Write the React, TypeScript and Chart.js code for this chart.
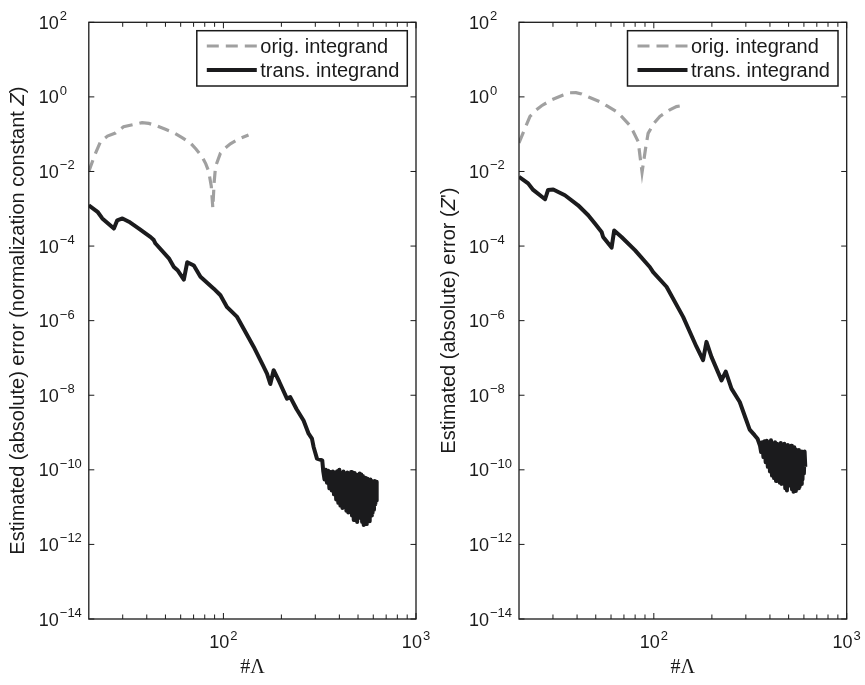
import React, { useEffect, useRef } from 'react';
import { Chart, registerables } from 'chart.js';

Chart.register(...registerables);

// ---------- axis ranges & ticks ----------
const X_MIN = 20;
const X_MAX = 1000;
const Y_MIN = 1e-14;
const Y_MAX = 1e2;
const X_MAJOR_TICKS = [100, 1000];
const X_TICK_EXPONENTS = [2, 3];
const X_MINOR_TICKS = [30, 40, 50, 60, 70, 80, 90, 200, 300, 400, 500, 600, 700, 800, 900];
const Y_TICK_EXPONENTS = [2, 0, -2, -4, -6, -8, -10, -12, -14];
const LEGEND_LABELS = ['orig. integrand', 'trans. integrand'];
const X_TITLE = '#\u039B';

// ---------- left panel: normalization constant Z ----------
const LEFT_ORIG_X = [20, 21.5, 23, 25, 27.5, 30.3, 34, 37.8, 41, 45.2, 50, 55.1, 61, 67.4, 72, 77.5, 81, 83.9, 86.5, 88.1, 89.5, 91, 96.5, 102, 108.7, 120, 135];
const LEFT_ORIG_Y = [0.01, 0.028, 0.063, 0.089, 0.107, 0.158, 0.18, 0.204, 0.195, 0.166, 0.135, 0.11, 0.081, 0.058, 0.04, 0.025, 0.016, 0.01, 0.004, 0.00105, 0.005, 0.0135, 0.031, 0.042, 0.055, 0.074, 0.095];

const LEFT_TRANS_X = [
  20, 22.2, 23.5, 27, 28.1, 29.9, 32.3, 36.4, 41.9, 43.5, 44.4, 52.1, 55.3, 58, 62.3, 64.9, 70.2, 76, 89.1, 96.5,
  104.5, 117.8, 143.5, 160, 168.4, 175.2, 182.3, 195, 213.8, 222.4, 240, 260.7, 277, 288.2, 294, 306, 326,
  330, 335, 340, 345, 350, 355, 360, 365, 370, 375,
  380, 385, 390, 395, 400, 405, 410, 415, 420, 425,
  430, 435, 440, 445, 450, 455, 460, 465, 470, 475,
  480, 485, 490, 495, 500, 505, 510, 515, 520, 525,
  530, 535, 540, 545, 550, 555, 560, 565, 570, 575,
  580, 585, 590, 595, 600, 605, 610, 615, 620, 625,
];
const LEFT_TRANS_Y = [
  1.24e-3, 8.3e-4, 5.5e-4, 2.95e-4, 4.9e-4, 5.5e-4, 4.5e-4, 2.95e-4, 1.74e-4, 1.45e-4, 1.17e-4, 4.7e-5, 2.75e-5, 2.2e-5, 1.26e-5, 3.7e-5, 3.0e-5, 1.5e-5, 7.2e-6, 4.8e-6,
  2.3e-6, 1.26e-6, 2.0e-7, 6.5e-8, 3.8e-8, 2.0e-8, 4.7e-8, 2.3e-8, 8.1e-9, 8.9e-9, 4.2e-9, 2.1e-9, 9.3e-10, 6.9e-10, 4.1e-10, 2.0e-10, 1.8e-10,
  9.0e-11, 5.5e-11, 1.0e-10, 4.5e-11, 9.5e-11, 3.2e-11, 8.8e-11, 2.8e-11, 9.0e-11, 2.2e-11,
  8.5e-11, 1.6e-11, 9.2e-11, 1.3e-11, 1.0e-10, 1.1e-11, 8.2e-11, 9.5e-12, 9.0e-11, 1.0e-11,
  7.8e-11, 8.0e-12, 8.5e-11, 7.2e-12, 7.5e-11, 8.5e-12, 8.8e-11, 6.0e-12, 7.0e-11, 4.5e-12,
  8.2e-11, 5.5e-12, 7.5e-11, 4.0e-12, 7.2e-11, 6.5e-12, 8.0e-11, 5.2e-12, 7.5e-11, 4.0e-12,
  6.8e-11, 3.3e-12, 6.2e-11, 4.8e-12, 6.0e-11, 3.5e-12, 5.8e-11, 5.0e-12, 5.2e-11, 4.2e-12,
  5.5e-11, 6.0e-12, 5.0e-11, 7.0e-12, 4.8e-11, 8.5e-12, 5.0e-11, 1.2e-11, 4.8e-11, 1.5e-11,
];

// ---------- right panel: Z' ----------
const RIGHT_ORIG_X = [20, 21.5, 22.8, 24.5, 26.2, 29.5, 33.9, 36.7, 39.5, 42.2, 46.2, 52.5, 56.9, 64.1, 68, 74.5, 78.2, 83, 86.9, 90.9, 93.4, 100, 107.5, 121, 131, 145];
const RIGHT_ORIG_Y = [0.058, 0.145, 0.3, 0.44, 0.58, 0.83, 1.12, 1.29, 1.3, 1.2, 0.98, 0.74, 0.58, 0.4, 0.3, 0.18, 0.118, 0.063, 0.0095, 0.046, 0.105, 0.195, 0.3, 0.45, 0.55, 0.6];

const RIGHT_TRANS_X = [
  20, 22.3, 23.7, 27.3, 28.3, 30.1, 34.6, 40.5, 45.7, 49.5, 53.6, 54.6, 60.4, 62.3, 68, 79.8, 95.3, 99.2,
  116.4, 141.9, 166.4, 180, 187.5, 199, 224.4, 236, 252.7, 279, 302, 314, 333, 345,
  355, 360, 365, 370, 375, 380, 385, 390, 395, 400,
  405, 410, 415, 420, 425, 430, 435, 440, 445, 450,
  455, 460, 465, 470, 475, 480, 485, 490, 495, 500,
  505, 510, 515, 520, 525, 530, 535, 540, 545, 550,
  555, 560, 565, 570, 575, 580, 585, 590, 595, 600,
  605, 610,
];
const RIGHT_TRANS_Y = [
  7.2e-3, 4.8e-3, 3.2e-3, 1.8e-3, 3.2e-3, 3.3e-3, 2.3e-3, 1.24e-3, 6.7e-4, 4.0e-4, 2.4e-4, 1.75e-4, 9.1e-5, 2.6e-4, 1.75e-4, 7.8e-5, 2.75e-5, 2.0e-5,
  8.1e-6, 1.26e-6, 2.0e-7, 8.7e-8, 2.7e-7, 1.07e-7, 2.5e-8, 4.3e-8, 1.5e-8, 6.6e-9, 2.1e-9, 1.2e-9, 8.5e-10, 6.8e-10,
  4.5e-10, 3.0e-10, 5.5e-10, 2.2e-10, 5.8e-10, 1.6e-10, 6.0e-10, 1.2e-10, 5.5e-10, 9.0e-11,
  6.2e-10, 7.0e-11, 5.0e-10, 6.0e-11, 5.5e-10, 5.0e-11, 5.0e-10, 5.5e-11, 4.8e-10, 4.5e-11,
  5.2e-10, 4.2e-11, 4.5e-10, 5.0e-11, 5.0e-10, 3.2e-11, 4.5e-10, 2.8e-11, 4.6e-10, 3.8e-11,
  4.2e-10, 4.0e-11, 4.4e-10, 3.0e-11, 3.8e-10, 2.6e-11, 4.0e-10, 2.7e-11, 3.5e-10, 3.6e-11,
  3.2e-10, 3.2e-11, 3.4e-10, 3.5e-11, 3.0e-10, 4.2e-11, 3.1e-10, 5.5e-11, 3.0e-10, 8.0e-11,
  3.1e-10, 1.2e-10,
];

const LEFT_Y_TITLE = [
  { text: 'Estimated (absolute) error (normalization constant ' },
  { text: 'Z', italic: true },
  { text: ')' },
];
const RIGHT_Y_TITLE = [
  { text: 'Estimated (absolute) error (' },
  { text: 'Z', italic: true },
  { text: "')" },
];

// ---------- styles ----------
const GRAY = '#a0a0a0';
const BLACK = '#1b1b1d';
const INK = '#1a1a1a';
const SANS = '"Liberation Sans", Arial, Helvetica, sans-serif';
const SERIF = '"Liberation Serif", "Times New Roman", serif';

type TitlePart = { text: string; italic?: boolean };

function pts(xs: number[], ys: number[]) {
  return xs.map((x, i) => ({ x, y: ys[i] }));
}

function makeAxesPlugin(titleParts: TitlePart[]) {
  return {
    id: 'matlabAxes',
    afterDatasetsDraw(chart: any) {
      const { ctx, chartArea: ca, scales } = chart;
      const xs = scales.x;
      const ys = scales.y;
      ctx.save();
      ctx.strokeStyle = INK;
      ctx.fillStyle = INK;

      // ticks (inward, all four sides)
      ctx.lineWidth = 1;
      ctx.beginPath();
      for (const v of X_MINOR_TICKS) {
        const px = xs.getPixelForValue(v);
        ctx.moveTo(px, ca.bottom);
        ctx.lineTo(px, ca.bottom - 4.5);
        ctx.moveTo(px, ca.top);
        ctx.lineTo(px, ca.top + 4.5);
      }
      for (const v of X_MAJOR_TICKS) {
        const px = xs.getPixelForValue(v);
        ctx.moveTo(px, ca.bottom);
        ctx.lineTo(px, ca.bottom - 6);
        ctx.moveTo(px, ca.top);
        ctx.lineTo(px, ca.top + 6);
      }
      for (const e of Y_TICK_EXPONENTS) {
        const py = ys.getPixelForValue(Math.pow(10, e));
        ctx.moveTo(ca.left, py);
        ctx.lineTo(ca.left + 5.5, py);
        ctx.moveTo(ca.right, py);
        ctx.lineTo(ca.right - 5.5, py);
      }
      ctx.stroke();

      // box
      ctx.lineWidth = 1.3;
      ctx.strokeRect(ca.left, ca.top, ca.right - ca.left, ca.bottom - ca.top);

      // tick labels
      const mainFont = '18px ' + SANS;
      const supFont = '13px ' + SANS;
      ctx.textBaseline = 'alphabetic';
      for (const e of Y_TICK_EXPONENTS) {
        const py = ys.getPixelForValue(Math.pow(10, e));
        ctx.font = mainFont;
        ctx.textAlign = 'right';
        ctx.fillText('10', ca.left - 30, py + 6.5);
        ctx.font = supFont;
        ctx.textAlign = 'left';
        ctx.fillText(e < 0 ? '\u2212' + String(-e) : String(e), ca.left - 29, py - 2);
      }
      for (const e of X_TICK_EXPONENTS) {
        const px = xs.getPixelForValue(Math.pow(10, e));
        ctx.font = mainFont;
        const w1 = ctx.measureText('10').width;
        ctx.font = supFont;
        const sup = String(e);
        const w2 = ctx.measureText(sup).width;
        const start = px - (w1 + 1 + w2) / 2;
        ctx.textAlign = 'left';
        ctx.font = mainFont;
        ctx.fillText('10', start, ca.bottom + 29);
        ctx.font = supFont;
        ctx.fillText(sup, start + w1 + 1, ca.bottom + 20.5);
      }

      // x title
      ctx.font = '20px ' + SERIF;
      ctx.textAlign = 'center';
      ctx.fillText(X_TITLE, (ca.left + ca.right) / 2, ca.bottom + 54);

      // y title (rotated, with italic Z)
      const normal = '20px ' + SANS;
      const italic = 'italic 20px ' + SANS;
      let total = 0;
      const widths = titleParts.map((p) => {
        ctx.font = p.italic ? italic : normal;
        const w = ctx.measureText(p.text).width;
        total += w;
        return w;
      });
      ctx.save();
      ctx.translate(ca.left - 70, (ca.top + ca.bottom) / 2);
      ctx.rotate(-Math.PI / 2);
      ctx.textAlign = 'left';
      ctx.textBaseline = 'middle';
      let cx = -total / 2;
      titleParts.forEach((p, i) => {
        ctx.font = p.italic ? italic : normal;
        ctx.fillText(p.text, cx, 0);
        cx += widths[i];
      });
      ctx.restore();

      // legend
      const boxW = 210.5;
      const boxH = 55.3;
      const bx = ca.right - 8.7 - boxW;
      const by = ca.top + 8.4;
      ctx.fillStyle = '#ffffff';
      ctx.fillRect(bx, by, boxW, boxH);
      ctx.lineWidth = 1.5;
      ctx.strokeStyle = INK;
      ctx.strokeRect(bx, by, boxW, boxH);
      const rows = [by + 15.3, by + 39.3];
      const ds = chart.data.datasets;
      rows.forEach((ry, i) => {
        const d = ds[i];
        ctx.beginPath();
        ctx.strokeStyle = d.borderColor;
        ctx.lineWidth = d.borderWidth;
        ctx.setLineDash(d.borderDash || []);
        ctx.moveTo(bx + 10, ry);
        ctx.lineTo(bx + 60, ry);
        ctx.stroke();
        ctx.setLineDash([]);
        ctx.fillStyle = INK;
        ctx.font = '20px ' + SANS;
        ctx.textAlign = 'left';
        ctx.textBaseline = 'middle';
        ctx.fillText(LEGEND_LABELS[i], bx + 63.5, ry + 1);
      });

      ctx.restore();
    },
  };
}

function buildChart(
  canvas: HTMLCanvasElement,
  orig: { x: number; y: number }[],
  trans: { x: number; y: number }[],
  padding: { left: number; right: number; top: number; bottom: number },
  title: TitlePart[]
) {
  return new Chart(canvas, {
    type: 'line',
    data: {
      datasets: [
        {
          label: LEGEND_LABELS[0],
          data: orig,
          borderColor: GRAY,
          borderWidth: 3.2,
          borderDash: [12, 7],
          pointRadius: 0,
          fill: false,
          tension: 0,
        },
        {
          label: LEGEND_LABELS[1],
          data: trans,
          borderColor: BLACK,
          borderWidth: 4,
          borderJoinStyle: 'round',
          pointRadius: 0,
          fill: false,
          tension: 0,
        },
      ],
    },
    options: {
      animation: false,
      responsive: false,
      maintainAspectRatio: false,
      devicePixelRatio: 1,
      events: [],
      layout: { padding },
      scales: {
        x: { type: 'logarithmic', min: X_MIN, max: X_MAX, display: false },
        y: { type: 'logarithmic', min: Y_MIN, max: Y_MAX, display: false },
      },
      plugins: {
        legend: { display: false },
        tooltip: { enabled: false },
        title: { display: false },
      },
    } as any,
    plugins: [makeAxesPlugin(title)],
  } as any);
}

export default function App() {
  const leftRef = useRef<HTMLCanvasElement>(null);
  const rightRef = useRef<HTMLCanvasElement>(null);

  useEffect(() => {
    const left = buildChart(
      leftRef.current!,
      pts(LEFT_ORIG_X, LEFT_ORIG_Y),
      pts(LEFT_TRANS_X, LEFT_TRANS_Y),
      { left: 88.8, right: 16, top: 22.3, bottom: 66 },
      LEFT_Y_TITLE
    );
    const right = buildChart(
      rightRef.current!,
      pts(RIGHT_ORIG_X, RIGHT_ORIG_Y),
      pts(RIGHT_TRANS_X, RIGHT_TRANS_Y),
      { left: 87, right: 18.3, top: 22.3, bottom: 66 },
      RIGHT_Y_TITLE
    );
    return () => {
      left.destroy();
      right.destroy();
    };
  }, []);

  return (
    <div style={{ position: 'absolute', left: 0, top: 0, width: 865, height: 685, background: '#ffffff', overflow: 'hidden' }}>
      <canvas
        ref={leftRef}
        width={432}
        height={685}
        style={{ position: 'absolute', left: 0, top: 0, width: 432, height: 685 }}
      />
      <canvas
        ref={rightRef}
        width={433}
        height={685}
        style={{ position: 'absolute', left: 432, top: 0, width: 433, height: 685 }}
      />
    </div>
  );
}
